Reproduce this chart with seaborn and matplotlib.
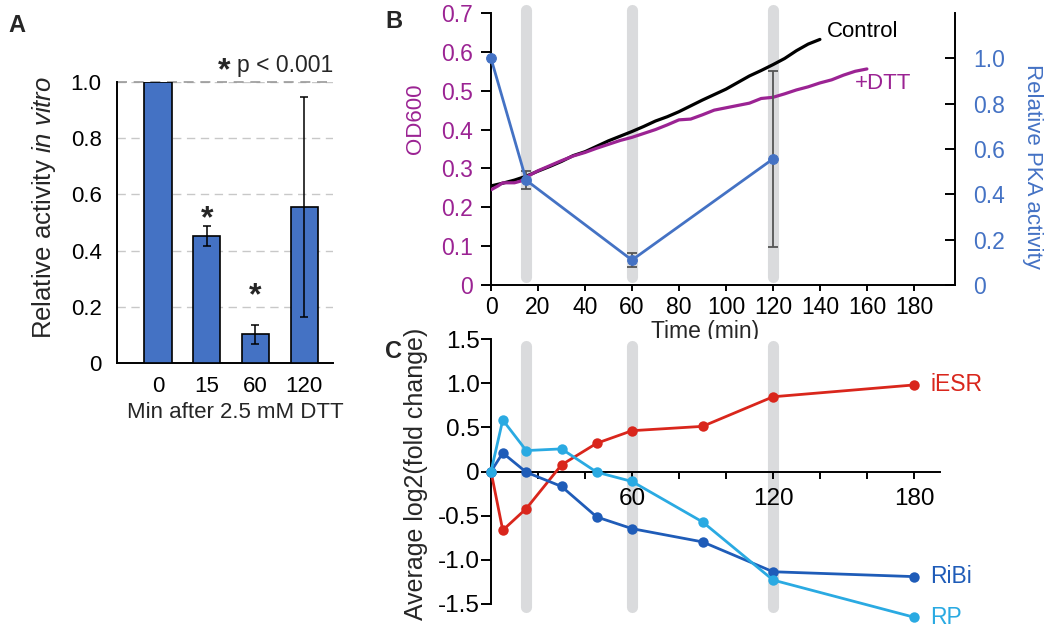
import matplotlib
matplotlib.use("Agg")
import matplotlib.pyplot as plt
import seaborn as sns
import numpy as np
import pandas as pd

# ---------------- data ----------------
# Panel A
a_cats = ["0", "15", "60", "120"]
a_vals = [1.0, 0.452, 0.102, 0.555]
a_err = [0.0, 0.034, 0.034, 0.39]
a_sig = ["", "*", "*", ""]

# Panel B
ctrl_t = [0, 5, 10, 15, 20, 25, 30, 35, 40, 45, 50, 55, 60, 65, 70, 75, 80,
          85, 90, 95, 100, 105, 110, 115, 120, 125, 130, 135, 140]
ctrl_od = [0.255, 0.262, 0.270, 0.280, 0.293, 0.305, 0.318, 0.333, 0.343,
           0.357, 0.371, 0.383, 0.395, 0.408, 0.422, 0.433, 0.446, 0.461,
           0.476, 0.490, 0.504, 0.521, 0.538, 0.552, 0.567, 0.583, 0.603,
           0.620, 0.632]
dtt_t = [0, 3, 5, 10, 13, 15, 20, 25, 30, 35, 40, 45, 50, 55, 60, 65, 70, 75,
         80, 85, 90, 95, 100, 105, 110, 115, 120, 125, 130, 135, 140, 145,
         150, 155, 160]
dtt_od = [0.245, 0.255, 0.263, 0.263, 0.268, 0.278, 0.294, 0.307, 0.320,
          0.332, 0.341, 0.352, 0.362, 0.372, 0.380, 0.390, 0.400, 0.412,
          0.425, 0.427, 0.438, 0.450, 0.456, 0.462, 0.468, 0.480, 0.483,
          0.492, 0.502, 0.510, 0.520, 0.528, 0.540, 0.550, 0.556]
pka_t = [0, 15, 60, 120]
pka_vals = [1.0, 0.462, 0.110, 0.556]
pka_err = [0.0, 0.04, 0.03, 0.39]
band_t = [15, 60, 120]

# Panel C
c_t = [0, 5, 15, 30, 45, 60, 90, 120, 180]
iesr = [0.0, -0.665, -0.42, 0.075, 0.32, 0.462, 0.511, 0.846, 0.98]
ribi = [0.0, 0.21, -0.008, -0.169, -0.515, -0.647, -0.797, -1.135, -1.19]
rp = [0.0, 0.583, 0.237, 0.256, -0.008, -0.113, -0.571, -1.229, -1.65]
c_names = ["iESR", "RiBi", "RP"]

# ---------------- style ----------------
sns.set_style("white")
plt.rcParams["font.family"] = ["Liberation Sans", "DejaVu Sans"]
plt.rcParams["mathtext.fontset"] = "custom"
plt.rcParams["mathtext.rm"] = "Liberation Sans"
plt.rcParams["mathtext.it"] = "Liberation Sans:italic"
plt.rcParams["mathtext.bf"] = "Liberation Sans:bold"

BAR_BLUE = "#4472C4"
PURPLE = "#9B2393"
RED = "#D9261C"
DBLUE = "#1F5CB8"
LBLUE = "#2AAAE2"
BAND = "#DADBDD"

W, H = 1050, 636
fig = plt.figure(figsize=(W / 100, H / 100), dpi=100)


def rect(l, t, r, b):
    return [l / W, 1 - b / H, (r - l) / W, (b - t) / H]


# ---------------- Panel A ----------------
axA = fig.add_axes(rect(117, 82, 333, 363))
dfA = pd.DataFrame({"time": a_cats, "val": a_vals})
sns.barplot(data=dfA, x="time", y="val", order=a_cats, color=BAR_BLUE,
            saturation=1, edgecolor="black", linewidth=1.2, width=0.56,
            errorbar=None, ax=axA, zorder=3)
xs = np.arange(len(a_cats))
sig_anchor = [None, 0.512, 0.238, None]  # text anchor heights for stars
for i in range(len(a_cats)):
    if a_err[i] > 0:
        axA.errorbar(xs[i], a_vals[i], yerr=a_err[i], fmt="none",
                     ecolor="black", elinewidth=1.1, capsize=3, capthick=1.1,
                     zorder=4)
    if a_sig[i]:
        axA.text(xs[i], sig_anchor[i], a_sig[i], ha="center",
                 va="center", fontsize=23, fontweight="bold")
axA.set_xlim(-0.84, 3.59)
axA.set_ylim(0, 1.0)
axA.set_yticks([0, 0.2, 0.4, 0.6, 0.8, 1.0])
axA.set_yticklabels(["0", "0.2", "0.4", "0.6", "0.8", "1.0"])
axA.yaxis.grid(True, linestyle=(0, (6, 4)), color="#C8C8C8", lw=1)
axA.axhline(1.0, linestyle=(0, (6, 4)), color="#9A9A9A", lw=1.2,
            clip_on=False, zorder=2)
axA.set_axisbelow(True)
for s in ["top", "right"]:
    axA.spines[s].set_visible(False)
for s in ["left", "bottom"]:
    axA.spines[s].set_color("black")
    axA.spines[s].set_linewidth(1.4)
axA.tick_params(axis="both", length=0, labelsize=16, colors="black")
axA.tick_params(axis="y", pad=11)
axA.tick_params(axis="x", pad=9)
axA.set_ylabel("Relative activity $\\it{in\\ vitro}$", fontsize=18.5,
               va="center")
axA.yaxis.set_label_coords((44 - 117) / 216, (363 - 207) / 281)
axA.set_xlabel("Min after 2.5 mM DTT", fontsize=16, va="center")
axA.xaxis.set_label_coords((235 - 117) / 216, (363 - 413) / 281)
axA.text(1.0, 1.06, "p < 0.001", transform=axA.transAxes,
         ha="right", va="center", fontsize=16.5)
axA.text((224 - 117) / 216, (363 - 71) / 281, "*", transform=axA.transAxes,
         ha="center", va="center", fontsize=23, fontweight="bold")
fig.text(8 / W, 1 - 25 / H, "A", fontsize=17, fontweight="bold",
         ha="left", va="center")

# ---------------- Panel B ----------------
axB = fig.add_axes(rect(491, 13, 955, 285))
for t in band_t:
    axB.axvline(t, ymin=0.028, ymax=1.01, color=BAND, lw=8,
                solid_capstyle="round", clip_on=False, zorder=0)
dfc = pd.DataFrame({"t": ctrl_t, "od": ctrl_od})
dfd = pd.DataFrame({"t": dtt_t, "od": dtt_od})
sns.lineplot(data=dfc, x="t", y="od", color="black", lw=2.3, ax=axB,
             zorder=3)
sns.lineplot(data=dfd, x="t", y="od", color=PURPLE, lw=2.3, ax=axB,
             zorder=3)
axB.set_xlim(0, 197.5)
axB.set_ylim(0, 0.7)
axB.set_xticks(np.arange(0, 181, 20))
axB.set_yticks(np.arange(0, 0.71, 0.1))
axB.set_yticklabels(["0", "0.1", "0.2", "0.3", "0.4", "0.5", "0.6", "0.7"])
axB.tick_params(axis="y", direction="out", length=7, width=1.4,
                labelsize=16.5, labelcolor=PURPLE, color="black", pad=6,
                left=True)
axB.tick_params(axis="x", direction="out", length=4, width=1.4,
                labelsize=16.5, labelcolor="black", color="black", pad=4,
                bottom=True)
for s in ["top", "right"]:
    axB.spines[s].set_visible(False)
for s in ["left", "bottom"]:
    axB.spines[s].set_color("black")
    axB.spines[s].set_linewidth(1.4)
axB.set_xlabel("Time (min)", fontsize=16.5, va="center")
axB.xaxis.set_label_coords((705 - 491) / 464, (285 - 331) / 272)
axB.set_ylabel("OD600", fontsize=16, color=PURPLE, va="center")
axB.yaxis.set_label_coords((415 - 491) / 464, (285 - 119) / 272)
axB.text(143, 0.652, "Control", fontsize=16, color="black",
         ha="left", va="center")
axB.text(167, 0.518, "+DTT", fontsize=16, color=PURPLE, ha="center",
         va="center")

axB2 = axB.twinx()
axB2.set_position(rect(491, 13, 955, 285))
for i in range(len(pka_t)):
    if pka_err[i] > 0:
        axB2.errorbar(pka_t[i], pka_vals[i], yerr=pka_err[i], fmt="none",
                      ecolor="#555555", elinewidth=1.3, capsize=3.5,
                      capthick=1.3, zorder=4)
dfp = pd.DataFrame({"t": pka_t, "v": pka_vals})
sns.lineplot(data=dfp, x="t", y="v", color=BAR_BLUE, lw=2.0, marker="o",
             markersize=7, markeredgecolor=BAR_BLUE, ax=axB2, zorder=5,
             clip_on=False)
axB2.set_ylim(0, 1.2)
axB2.set_xlim(0, 197.5)
axB2.set_yticks([0, 0.2, 0.4, 0.6, 0.8, 1.0])
axB2.set_yticklabels(["0", "0.2", "0.4", "0.6", "0.8", "1.0"])
axB2.tick_params(axis="y", direction="in", length=7, width=1.4,
                 labelsize=16.5, labelcolor=BAR_BLUE, color="black", pad=13,
                 right=True)
for s in ["top", "left", "bottom"]:
    axB2.spines[s].set_visible(False)
axB2.spines["right"].set_color("black")
axB2.spines["right"].set_linewidth(1.4)
axB2.set_ylabel("Relative PKA activity", fontsize=16, color=BAR_BLUE,
                rotation=270, va="center")
axB2.yaxis.set_label_coords((1033 - 491) / 464, (285 - 166.5) / 272)
fig.text(385 / W, 1 - 22 / H, "B", fontsize=17, fontweight="bold",
         ha="left", va="center")

# ---------------- Panel C ----------------
axC = fig.add_axes(rect(491, 339, 940, 604))
for t in band_t:
    axC.axvline(t, ymin=-0.013, ymax=0.975, color=BAND, lw=8,
                solid_capstyle="round", clip_on=False, zorder=0)
dfC = pd.DataFrame({"t": c_t * 3,
                    "v": iesr + ribi + rp,
                    "set": [c_names[0]] * len(c_t) + [c_names[1]] * len(c_t)
                    + [c_names[2]] * len(c_t)})
sns.lineplot(data=dfC, x="t", y="v", hue="set", hue_order=c_names,
             palette=[RED, DBLUE, LBLUE], marker="o", markersize=7.5,
             markeredgewidth=0, lw=2.0, ax=axC, legend=False, zorder=3,
             clip_on=False)
axC.set_xlim(0, 191)
axC.set_ylim(-1.5, 1.5)
axC.set_yticks([-1.5, -1.0, -0.5, 0, 0.5, 1.0, 1.5])
axC.set_yticklabels(["-1.5", "-1.0", "-0.5", "0", "0.5", "1.0", "1.5"])
axC.set_xticks(np.arange(0, 181, 20))
axC.set_xticklabels(["" if v % 60 or v == 0 else str(v)
                     for v in range(0, 181, 20)])
axC.spines["bottom"].set_position(("data", 0))
for s in ["top", "right"]:
    axC.spines[s].set_visible(False)
for s in ["left", "bottom"]:
    axC.spines[s].set_color("black")
    axC.spines[s].set_linewidth(1.4)
axC.tick_params(axis="y", direction="out", length=7, width=1.4,
                labelsize=17.5, colors="black", pad=1, left=True)
axC.tick_params(axis="x", direction="out", length=5, width=1.4,
                labelsize=17.5, colors="black", pad=7, bottom=True)
axC.set_xlabel("")
axC.set_ylabel("Average log2(fold change)", fontsize=18, va="center")
axC.yaxis.set_label_coords((416 - 491) / 449, (604 - 473.5) / 265)
for name, vals, col in zip(c_names, [iesr, ribi, rp], [RED, DBLUE, LBLUE]):
    axC.text(c_t[-1] + 7, vals[-1], name, color=col, fontsize=16.5,
             ha="left", va="center")
fig.text(385 / W, 1 - 352 / H, "C", fontsize=17, fontweight="bold",
         ha="left", va="center")

fig.savefig("out.png", dpi=100)
